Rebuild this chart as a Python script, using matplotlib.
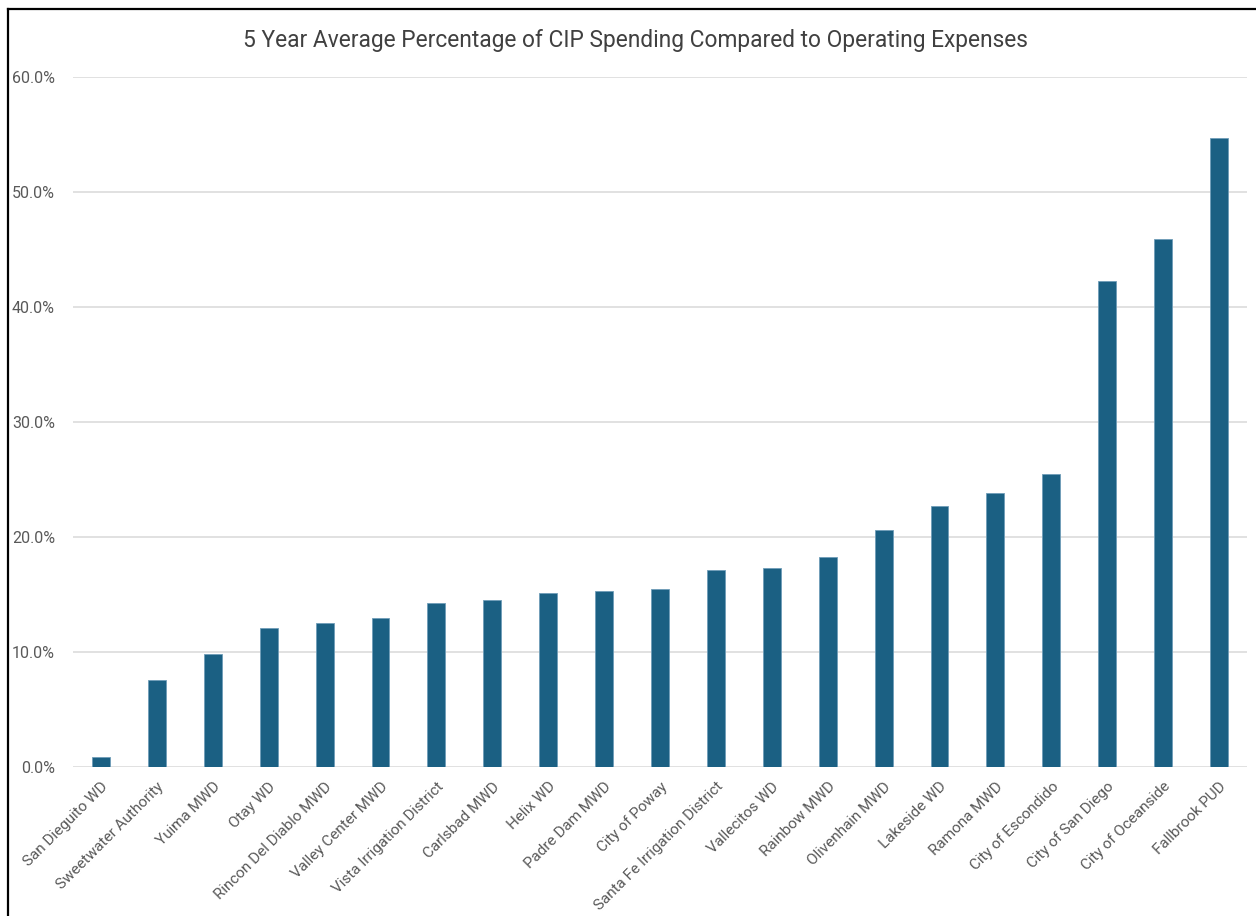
import matplotlib
matplotlib.use('Agg')
import matplotlib.pyplot as plt
from matplotlib.lines import Line2D
from matplotlib.ticker import FuncFormatter

agencies = [
    'San Dieguito WD', 'Sweetwater Authority', 'Yuima MWD', 'Otay WD',
    'Rincon Del Diablo MWD', 'Valley Center MWD', 'Vista Irrigation District',
    'Carlsbad MWD', 'Helix WD', 'Padre Dam MWD', 'City of Poway',
    'Santa Fe Irrigation District', 'Vallecitos WD', 'Rainbow MWD',
    'Olivenhain MWD', 'Lakeside WD', 'Ramona MWD', 'City of Escondido',
    'City of San Diego', 'City of Oceanside', 'Fallbrook PUD',
]
cip_pct = [
    0.9, 7.6, 9.8, 12.1, 12.5, 13.0, 14.3, 14.5, 15.1, 15.3, 15.5,
    17.1, 17.3, 18.3, 20.6, 22.7, 23.8, 25.5, 42.3, 45.9, 54.7,
]
y_ticks = [0, 10, 20, 30, 40, 50, 60]

title = '5 Year Average Percentage of CIP Spending Compared to Operating Expenses'
fam = ['Roboto', 'DejaVu Sans']

W, H = 1256, 916
fig = plt.figure(figsize=(W / 100, H / 100), dpi=100)
ax = fig.add_axes([73 / W, 1 - 767 / H, (1247 - 73) / W, (767 - 77) / H])

x = range(len(agencies))
ax.bar(x, cip_pct, width=0.32, color='#1B6083', edgecolor='#6F9DB8',
       linewidth=0.6, zorder=3)

ax.set_xlim(-0.5, len(agencies) - 0.5)
ax.set_ylim(0, 60)
ax.set_yticks(y_ticks)
ax.yaxis.set_major_formatter(FuncFormatter(lambda v, p: f'{v:.1f}%'))
ax.grid(axis='y', color='#D9D9D9', linewidth=1.1, zorder=0)
for s in ax.spines.values():
    s.set_visible(False)
ax.tick_params(length=0)
ax.tick_params(axis='y', labelsize=11.5, labelcolor='#595959', pad=13)

ax.set_xticks(list(x))
ax.set_xticklabels(agencies, rotation=45, ha='right', rotation_mode='anchor',
                   fontsize=11, color='#595959')
ax.tick_params(axis='x', pad=9)
for lbl in ax.get_xticklabels() + ax.get_yticklabels():
    lbl.set_family(fam)

fig.text(0.506, 1 - 40 / H, title, ha='center', va='center', fontsize=16.4,
         color='#404040', family=fam)

# frame lines from the screenshot (top and left only)
fig.add_artist(Line2D([8 / W, 1], [1 - 9 / H, 1 - 9 / H], color='black', linewidth=1.6))
fig.add_artist(Line2D([8 / W, 8 / W], [0, 1 - 9 / H], color='black', linewidth=1.6))

fig.savefig('out.png', dpi=100)
